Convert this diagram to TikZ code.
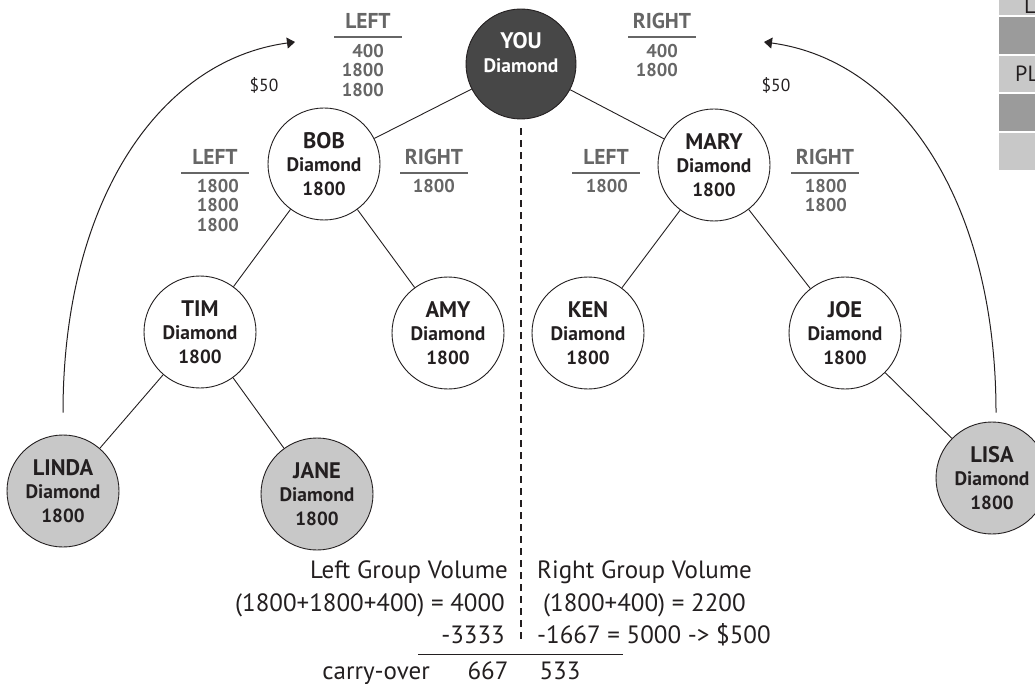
\documentclass[tikz,border=0pt]{standalone}
\usepackage{fontspec}
\setmainfont{PT Sans}
\usepackage{tikz}
\usetikzlibrary{arrows.meta}
\definecolor{yougray}{HTML}{474747}
\definecolor{leafgray}{HTML}{C8C8C8}
\definecolor{celldark}{HTML}{9B9B9B}
\definecolor{tallygray}{HTML}{666666}
\definecolor{ink}{HTML}{231F20}
\newcommand{\pname}[1]{{\fontsize{22.5}{22.5}\selectfont #1}}
\newcommand{\drank}{{\fontsize{19.5}{19.5}\selectfont Diamond}}

\begin{document}
\begin{tikzpicture}[x=1pt,y=-1pt,
  member/.style={circle,draw=ink,line width=0.9pt,fill=white,minimum size=112pt,inner sep=0pt,
    align=center,text=ink,font=\fontsize{19}{23.5}\selectfont\bfseries},
  leaf/.style={member,fill=leafgray},
  rootnode/.style={member,fill=yougray,text=white,minimum size=110pt},
  link/.style={draw=ink,line width=0.9pt},
  split/.style={draw=ink,line width=2.4pt,dash pattern=on 7pt off 5pt},
  tallyhead/.style={inner sep=0pt,minimum width=67pt,text depth=8pt,anchor=base,text=tallygray,
    font=\fontsize{21.5}{21.5}\selectfont\bfseries},
  tallyrule/.style={draw=tallygray,line width=1.5pt},
  tallyval/.style={inner sep=0pt,align=right,anchor=north east,text=tallygray,
    font=\fontsize{18.5}{19.5}\selectfont\bfseries},
  paytext/.style={inner sep=0pt,text=ink,font=\fontsize{17.5}{17.5}\selectfont},
  payarrow/.style={draw=ink,line width=1pt,-{Triangle[length=8pt,width=11pt]}},
  sumtext/.style={inner sep=0pt,text=ink,font=\fontsize{25}{25}\selectfont}
]
  \useasboundingbox (0,0) rectangle (1035,684);
  \clip (0,0) rectangle (1035,684);

  % legend cells, cut off at the right edge
  \foreach \y/\h/\c in {-5/20/leafgray,17/37/celldark,56/36/leafgray,94/37/celldark,133/37/leafgray}
    \fill[\c] (999,\y) rectangle ++(45,\h);
  \node[sumtext,anchor=base west,font=\fontsize{22}{22}\selectfont] (cellL) at (1024,14) {L};
  \node[sumtext,anchor=base west,font=\fontsize{22}{22}\selectfont] (cellPL) at (1015,82) {PL};

  % the tree
  \node[rootnode] (you) at (521,64) {\pname{YOU}\\\drank\\\mbox{}};
  \node[member] (bob) at (324,164) {\pname{BOB}\\\drank\\1800};
  \node[member] (mary) at (714,165) {\pname{MARY}\\\drank\\1800};
  \node[member] (tim) at (200,332) {\pname{TIM}\\\drank\\1800};
  \node[member] (amy) at (448,333) {\pname{AMY}\\\drank\\1800};
  \node[member] (ken) at (588,333) {\pname{KEN}\\\drank\\1800};
  \node[member] (joe) at (845,333) {\pname{JOE}\\\drank\\1800};
  \node[leaf] (linda) at (63,491) {\pname{LINDA}\\\drank\\1800};
  \node[leaf] (jane) at (317,494) {\pname{JANE}\\\drank\\1800};
  \node[leaf] (lisa) at (992,478) {\pname{LISA}\\\drank\\1800};

  \draw[link] (you) -- (bob);
  \draw[link] (you) -- (mary);
  \draw[link] (bob) -- (tim);
  \draw[link] (bob) -- (amy);
  \draw[link] (tim) -- (linda);
  \draw[link] (tim) -- (jane);
  \draw[link] (mary) -- (ken);
  \draw[link] (mary) -- (joe);
  \draw[link] (joe) -- (lisa);

  % left / right tallies
  \node[tallyhead] (youL) at (368,29) {LEFT};
  \draw[tallyrule] (youL.south west) -- (youL.south east);
  \node[tallyval] (youLv) at (384,44) {400\\1800\\1800};
  \node[tallyhead] (youR) at (662,29) {RIGHT};
  \draw[tallyrule] (youR.south west) -- (youR.south east);
  \node[tallyval] (youRv) at (678,44) {400\\1800};
  \node[tallyhead] (bobL) at (215,165) {LEFT};
  \draw[tallyrule] (bobL.south west) -- (bobL.south east);
  \node[tallyval] (bobLv) at (239,179) {1800\\1800\\1800};
  \node[tallyhead] (bobR) at (434,165) {RIGHT};
  \draw[tallyrule] (bobR.south west) -- (bobR.south east);
  \node[tallyval] (bobRv) at (455,179) {1800};
  \node[tallyhead] (maryL) at (606,165) {LEFT};
  \draw[tallyrule] (maryL.south west) -- (maryL.south east);
  \node[tallyval] (maryLv) at (628,179) {1800};
  \node[tallyhead] (maryR) at (825,165) {RIGHT};
  \draw[tallyrule] (maryR.south west) -- (maryR.south east);
  \node[tallyval] (maryRv) at (847,179) {1800\\1800};

  % bonus arrows
  \coordinate (bonusL) at (295,42);
  \coordinate (bonusR) at (764,42);
  \draw[payarrow] ([yshift=22pt]linda.north) .. controls (63,200) and (160,60) .. (bonusL);
  \draw[payarrow] ([xshift=4pt,yshift=9pt]lisa.north) .. controls (996,200) and (899,60) .. (bonusR);
  \node[paytext] (payL) at (264,85) {\$50};
  \node[paytext] (payR) at (776,85) {\$50};

  % split line and volumes
  \coordinate (splitend) at (521,640);
  \draw[split] ([yshift=-9pt]you.south) -- (splitend);
  \node[sumtext,anchor=base east] (lgv) at (508,578) {Left Group Volume};
  \node[sumtext,anchor=base east] (lsum) at (505,611) {(1800+1800+400) = 4000};
  \node[sumtext,anchor=base east] (lcut) at (505,643) {-3333};
  \node[sumtext,anchor=base west] (rgv) at (537,578) {Right Group Volume};
  \node[sumtext,anchor=base west] (rsum) at (543,611) {(1800+400) = 2200};
  \node[sumtext,anchor=base west] (rcut) at (537,643) {-1667 = 5000 -> \$500};
  \draw[link] (418,654) -- (623,654);
  \node[sumtext,anchor=base east] (carry) at (430,679) {carry-over};
  \node[sumtext,anchor=base] (carryL) at (488,679) {667};
  \node[sumtext,anchor=base] (carryR) at (560,679) {533};
\end{tikzpicture}
\end{document}
